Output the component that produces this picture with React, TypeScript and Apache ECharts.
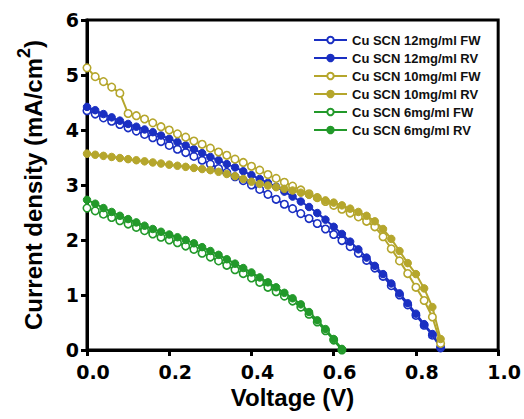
import React, { useEffect, useRef } from "react";
import * as echarts from "echarts";

const voltageLong = [0, 0.02, 0.04, 0.06, 0.08, 0.1, 0.12, 0.14, 0.16, 0.18, 0.2, 0.22, 0.24, 0.26, 0.28, 0.3, 0.32, 0.34, 0.36, 0.38, 0.4, 0.42, 0.44, 0.46, 0.48, 0.5, 0.52, 0.54, 0.56, 0.58, 0.6, 0.62, 0.64, 0.66, 0.68, 0.7, 0.72, 0.74, 0.76, 0.78, 0.8, 0.82, 0.84, 0.86];
const voltageShort = [0, 0.02, 0.04, 0.06, 0.08, 0.1, 0.12, 0.14, 0.16, 0.18, 0.2, 0.22, 0.24, 0.26, 0.28, 0.3, 0.32, 0.34, 0.36, 0.38, 0.4, 0.42, 0.44, 0.46, 0.48, 0.5, 0.52, 0.54, 0.56, 0.58, 0.6, 0.62];

const j12FW = [4.35, 4.29, 4.22, 4.16, 4.1, 4.04, 3.98, 3.92, 3.86, 3.79, 3.72, 3.65, 3.59, 3.52, 3.45, 3.38, 3.3, 3.23, 3.15, 3.08, 3.0, 2.92, 2.83, 2.74, 2.65, 2.57, 2.48, 2.39, 2.3, 2.2, 2.1, 1.99, 1.88, 1.76, 1.63, 1.49, 1.34, 1.17, 1.0, 0.82, 0.63, 0.45, 0.27, 0.04];
const j12RV = [4.42, 4.36, 4.29, 4.23, 4.17, 4.11, 4.06, 4.01, 3.96, 3.9, 3.84, 3.78, 3.72, 3.65, 3.58, 3.51, 3.45, 3.38, 3.32, 3.25, 3.18, 3.11, 3.04, 2.97, 2.88, 2.79, 2.7, 2.6, 2.49, 2.37, 2.24, 2.11, 1.97, 1.83, 1.68, 1.53, 1.38, 1.21, 1.03, 0.85, 0.66, 0.47, 0.29, 0.06];
const j10FW = [5.13, 4.97, 4.88, 4.78, 4.67, 4.3, 4.26, 4.2, 4.13, 4.06, 4.0, 3.93, 3.87, 3.8, 3.74, 3.67, 3.6, 3.54, 3.47, 3.41, 3.34, 3.27, 3.19, 3.12, 3.05, 2.98, 2.91, 2.84, 2.77, 2.7, 2.63, 2.56, 2.49, 2.42, 2.34, 2.24, 2.06, 1.84, 1.62, 1.39, 1.14, 0.9, 0.6, 0.12];
const j10RV = [3.57, 3.55, 3.53, 3.51, 3.49, 3.47, 3.45, 3.43, 3.41, 3.39, 3.37, 3.35, 3.33, 3.31, 3.29, 3.27, 3.24, 3.2, 3.16, 3.11, 3.06, 3.02, 2.99, 2.96, 2.93, 2.9, 2.86, 2.82, 2.77, 2.72, 2.68, 2.63, 2.57, 2.51, 2.44, 2.34, 2.2, 2.02, 1.8, 1.58, 1.38, 1.12, 0.78, 0.2];
const j6FW = [2.58, 2.53, 2.47, 2.41, 2.35, 2.29, 2.23, 2.17, 2.11, 2.05, 2.0, 1.95, 1.89, 1.83, 1.76, 1.69, 1.62, 1.54, 1.46, 1.39, 1.31, 1.23, 1.14, 1.06, 0.98, 0.89, 0.78, 0.65, 0.51, 0.35, 0.18, 0.0];
const j6RV = [2.73, 2.66, 2.58, 2.51, 2.44, 2.38, 2.32, 2.26, 2.2, 2.15, 2.1, 2.05, 2.0, 1.94, 1.87, 1.8, 1.73, 1.65, 1.57, 1.49, 1.41, 1.32, 1.23, 1.14, 1.04, 0.94, 0.83, 0.69, 0.54, 0.38, 0.2, 0.02];

const seriesNames = [
  "Cu SCN 12mg/ml FW",
  "Cu SCN 12mg/ml RV",
  "Cu SCN 10mg/ml FW",
  "Cu SCN 10mg/ml RV",
  "Cu SCN 6mg/ml FW",
  "Cu SCN 6mg/ml RV",
];
const xTicks = [0, 0.2, 0.4, 0.6, 0.8, 1.0];

const BLUE = "#1a2fc2";
const GOLD = "#b5a62c";
const GREEN = "#22992a";

function pairs(xs: number[], ys: number[]) {
  return ys.map((y, i) => [xs[i], y]);
}

function makeSeries(name: string, xs: number[], ys: number[], color: string, open: boolean) {
  return {
    name,
    type: "line",
    data: pairs(xs, ys),
    symbol: "circle",
    symbolSize: 7.5,
    showSymbol: true,
    lineStyle: { color, width: 2 },
    itemStyle: open
      ? { color: "#ffffff", borderColor: color, borderWidth: 1.6 }
      : { color, borderColor: color, borderWidth: 1 },
    emphasis: { disabled: true },
  };
}

export default function App() {
  const ref = useRef<HTMLDivElement>(null);
  useEffect(() => {
    if (!ref.current) return;
    const chart = echarts.init(ref.current, undefined, { renderer: "svg" });
    const axisFont = { fontFamily: "DejaVu Sans", fontWeight: "bold" as const, fontSize: 19, color: "#000" };
    chart.setOption({
      animation: false,
      backgroundColor: "#fff",
      grid: {
        left: 87,
        right: 25,
        top: 20,
        bottom: 69,
        show: true,
        borderColor: "#000",
        borderWidth: 3,
        backgroundColor: "transparent",
      },
      legend: {
        orient: "vertical",
        left: 308,
        top: 28,
        padding: 5,
        itemWidth: 33,
        itemHeight: 8,
        itemGap: 4,
        data: seriesNames,
        textStyle: { fontFamily: "Arial, Liberation Sans", fontWeight: "bold", fontSize: 13, lineHeight: 14, color: "#111" },
      },
      xAxis: {
        type: "value",
        min: 0,
        max: 1,
        interval: 0.2,
        name: "Voltage (V)",
        nameLocation: "middle",
        nameGap: 35,
        nameTextStyle: { fontFamily: "Arial, Liberation Sans", fontWeight: "bold", fontSize: 24, color: "#000" },
        axisLine: { show: true, lineStyle: { color: "#000", width: 3 } },
        axisTick: { show: true, inside: false, length: 6, lineStyle: { color: "#000", width: 3 } },
        splitLine: { show: false },
        axisLabel: {
          ...axisFont,
          margin: 12,
          padding: [0, 0, 0, 12],
          formatter: (v: number) => (xTicks.includes(v) ? v.toFixed(1) : ""),
        },
      },
      yAxis: {
        type: "value",
        min: 0,
        max: 6,
        interval: 1,
        name: "{a|Current density (mA/cm}{s|2}{a|)}",
        nameLocation: "middle",
        nameGap: 42,
        nameRotate: 90,
        nameTextStyle: {
          rich: {
            a: { fontFamily: "Arial, Liberation Sans", fontWeight: "bold", fontSize: 24, color: "#000", lineHeight: 30, verticalAlign: "bottom" },
            s: { fontFamily: "Arial, Liberation Sans", fontWeight: "bold", fontSize: 18, color: "#000", lineHeight: 30, verticalAlign: "top", padding: [0, 0, 10, 0] },
          },
        },
        axisLine: { show: true, lineStyle: { color: "#000", width: 3 } },
        axisTick: { show: true, inside: false, length: 6, lineStyle: { color: "#000", width: 3 } },
        splitLine: { show: false },
        axisLabel: { ...axisFont, margin: 8 },
      },
      series: [
        makeSeries(seriesNames[0], voltageLong, j12FW, BLUE, true),
        makeSeries(seriesNames[1], voltageLong, j12RV, BLUE, false),
        makeSeries(seriesNames[2], voltageLong, j10FW, GOLD, true),
        makeSeries(seriesNames[3], voltageLong, j10RV, GOLD, false),
        makeSeries(seriesNames[4], voltageShort, j6FW, GREEN, true),
        makeSeries(seriesNames[5], voltageShort, j6RV, GREEN, false),
      ],
    });
    return () => chart.dispose();
  }, []);
  return <div ref={ref} style={{ position: "absolute", left: 0, top: 0, width: 524, height: 419 }} />;
}
